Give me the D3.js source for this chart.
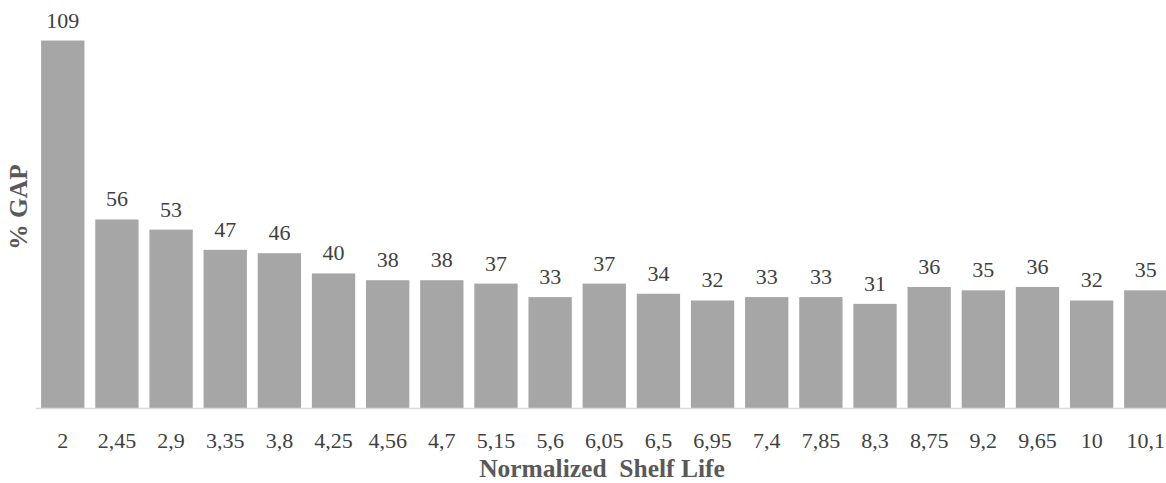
<!DOCTYPE html>
<html>
<head>
<meta charset="utf-8">
<script src="https://cdn.jsdelivr.net/npm/d3@7"></script>
<style>
  html, body { margin: 0; padding: 0; background: #fff; }
  svg { display: block; }
  svg text { font-family: "Liberation Serif", "Times New Roman", Times, "DejaVu Serif", serif; }
</style>
</head>
<body>
<svg id="chart" width="1166" height="483"></svg>
<script>
// Normalized shelf life categories and % GAP per category
const categories = ["2", "2,45", "2,9", "3,35", "3,8", "4,25", "4,56", "4,7", "5,15", "5,6", "6,05",
                    "6,5", "6,95", "7,4", "7,85", "8,3", "8,75", "9,2", "9,65", "10", "10,1"];
const gapValues = [109, 56, 53, 47, 46, 40, 38, 38, 37, 33, 37, 34, 32, 33, 33, 31, 36, 35, 36, 32, 35];
const yDomain = [0, 120];

const svg = d3.select("#chart");
const W = 1166, H = 483;
const left = 35.7, baseY = 408.5, topY = 3.4;
const step = 54.15;

const x = d3.scaleBand()
  .domain(categories)
  .range([left, left + step * categories.length])
  .paddingInner(0.2)
  .paddingOuter(0.1);

const y = d3.scaleLinear().domain(yDomain).range([baseY, topY]);

const data = categories.map((c, i) => ({ c, v: gapValues[i] }));

// bars
svg.append("g").selectAll("rect")
  .data(data)
  .join("rect")
  .attr("x", d => x(d.c))
  .attr("y", d => y(d.v))
  .attr("width", x.bandwidth())
  .attr("height", d => y(0) - y(d.v))
  .attr("fill", "#a6a6a6");

// baseline axis
const xAxis = d3.axisBottom(x).tickSize(0).tickPadding(24);
const gx = svg.append("g")
  .attr("transform", `translate(0,${baseY})`)
  .call(xAxis)
  .attr("font-family", null)
  .attr("font-size", null);
gx.select(".domain").attr("stroke", "#d9d9d9").attr("stroke-width", 1.5)
  .attr("d", `M${left},0H${W}`);
gx.selectAll(".tick text")
  .style("font-size", "22px")
  .attr("fill", "#404040")
  .attr("dy", "0.71em");

// value labels
svg.append("g").selectAll("text")
  .data(data)
  .join("text")
  .attr("x", d => x(d.c) + x.bandwidth() / 2)
  .attr("y", d => y(d.v) - 13)
  .attr("text-anchor", "middle")
  .style("font-size", "22px")
  .attr("fill", "#404040")
  .text(d => d.v);

// axis titles
svg.append("text")
  .attr("x", 602)
  .attr("y", 477)
  .attr("text-anchor", "middle")
  .style("font-weight", "bold")
  .style("font-size", "25.5px")
  .style("white-space", "pre")
  .attr("fill", "#595959")
  .text("Normalized  Shelf Life");

svg.append("text")
  .attr("transform", "translate(27,207) rotate(-90)")
  .attr("text-anchor", "middle")
  .style("font-weight", "bold")
  .style("font-size", "25.5px")
  .attr("fill", "#595959")
  .text("% GAP");
</script>
</body>
</html>
